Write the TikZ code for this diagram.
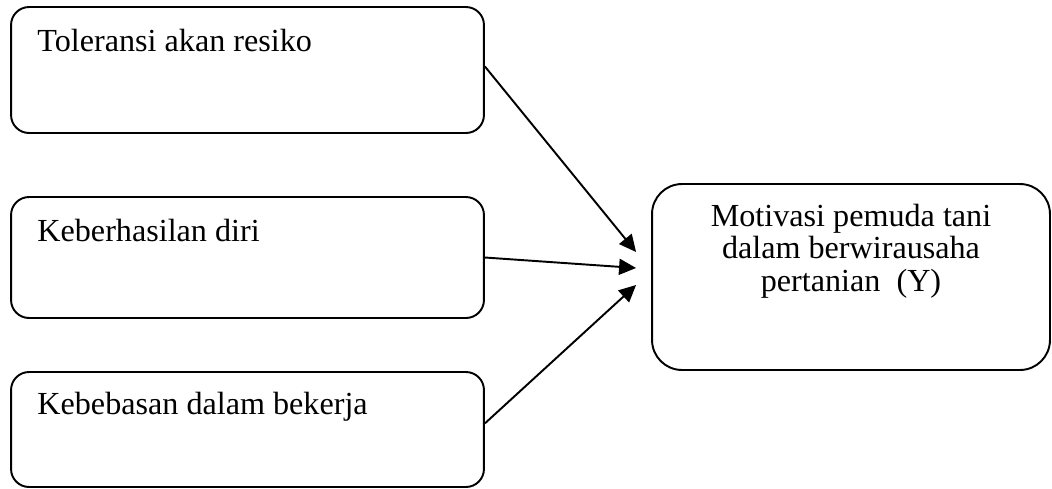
\documentclass[tikz,border=0pt]{standalone}
\usepackage{fontspec}
\setmainfont{Liberation Serif}
\usetikzlibrary{arrows.meta}

\tikzset{
  varbox/.style={draw, line width=1.1pt, rounded corners=0.36cm, minimum width=9.46cm},
  ybox/.style={draw, line width=1.1pt, rounded corners=0.6cm, minimum width=7.96cm, minimum height=3.72cm},
  txt/.style={inner sep=0pt, font=\fontsize{18.3}{18.3}\selectfont},
  link/.style={line width=1.1pt, -{Triangle[length=0.34cm,width=0.32cm]}}
}

\begin{document}
\begin{tikzpicture}[x=0.02cm, y=-0.02cm]
    \useasboundingbox (0,0) rectangle (1052,488);

    \node[varbox, minimum height=2.52cm] (x1) at (247.5,70) {};
    \node[varbox, minimum height=2.42cm] (x2) at (247.5,257.5) {};
    \node[varbox, minimum height=2.30cm] (x3) at (247.5,429.5) {};
    \node[ybox] (y) at (851,277) {};

    \node[txt, anchor=base west] (t1) at ([shift={(27,45)}] x1.north west) {Toleransi akan resiko};
    \node[txt, anchor=base west] (t2) at ([shift={(27,45)}] x2.north west) {Keberhasilan diri};
    \node[txt, anchor=base west] (t3) at ([shift={(27,43)}] x3.north west) {Kebebasan dalam bekerja};
    \node[txt, anchor=north, align=center] (ty) at ([shift={(0,21)}] y.north)
        {Motivasi pemuda tani\\dalam berwirausaha\\pertanian~~(Y)};

    \coordinate (in1) at ([shift={(-15,-25)}] y.west);
    \coordinate (in2) at ([shift={(-15,-9)}] y.west);
    \coordinate (in3) at ([shift={(-15,8)}] y.west);

    \draw[link] ([yshift=2] x1.east) -- (in1);
    \draw[link] (x2.east) -- (in2);
    \draw[link] ([yshift=3.5] x3.east) -- (in3);
\end{tikzpicture}
\end{document}
